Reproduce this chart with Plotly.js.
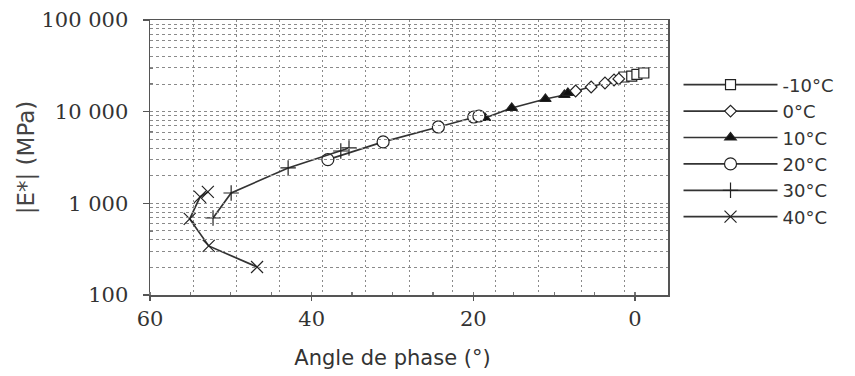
<!DOCTYPE html>
<html>
<head>
<meta charset="utf-8">
<script src="https://cdn.plot.ly/plotly-3.0.1.min.js"></script>
<style>html,body{margin:0;padding:0;background:#fff;}#chart{width:855px;height:376px;}</style>
</head>
<body>
<div id="chart"></div>
<script>
// Series (phase angle in degrees, |E*| in MPa)
const temps = ['-10°C', '0°C', '10°C', '20°C', '30°C', '40°C'];
const phase_m10 = [5.1, 4.2, 3.6, 2.8];
const modulus_m10 = [23880, 24480, 25470, 26420];
const phase_0 = [10.7, 8.9, 7.3, 6.25, 5.7];
const modulus_0 = [16820, 18570, 20570, 22180, 22760];
const phase_10 = [21.2, 18.1, 14.2, 12.0, 11.6];
const modulus_10 = [8530, 10970, 13740, 15200, 16000];
const phase_20 = [39.4, 33.0, 26.6, 22.5, 21.9];
const modulus_20 = [3000, 4680, 6810, 8750, 8970];
const phase_30 = [52.7, 50.6, 44.0, 37.9, 36.95];
const modulus_30 = [693, 1297, 2432, 3724, 4018];
const phase_40 = [47.6, 53.2, 55.4, 54.2, 53.3];
const modulus_40 = [202, 343, 676, 1175, 1331];

// Axis ticks
const xTickVals = [60, 40, 20, 0];
const xTickText = ['60', '40', '20', '0'];
const yTickVals = [100, 1000, 10000, 100000];
const yTickText = ['100', '1 000', '10 000', '100 000'];
const yMinorVals = [200, 300, 400, 500, 600, 700, 800, 900,
                    2000, 3000, 4000, 5000, 6000, 7000, 8000, 9000,
                    20000, 30000, 40000, 50000, 60000, 70000, 80000, 90000];

const lineStyle = {color: '#333', width: 1.7};
const mk = (symbol, size, fill) => ({symbol: symbol, size: size, color: fill, line: {color: '#222', width: 1.2}});

const traces = [
  {x: phase_m10, y: modulus_m10, name: temps[0], marker: mk('square', 10, '#fff')},
  {x: phase_0, y: modulus_0, name: temps[1], marker: mk('diamond', 9, '#fff')},
  {x: phase_10, y: modulus_10, name: temps[2], marker: mk('triangle-up', 10, '#111')},
  {x: phase_20, y: modulus_20, name: temps[3], marker: mk('circle', 12, '#fff')},
  {x: phase_30, y: modulus_30, name: temps[4], marker: mk('cross-thin-open', 11, '#222')},
  {x: phase_40, y: modulus_40, name: temps[5], marker: mk('x-thin-open', 12, '#222')}
].map(t => Object.assign({type: 'scatter', mode: 'lines+markers', line: lineStyle, xaxis: 'x', yaxis: 'y'}, t));

// empty trace so the labelled angle axis (x2) is created
traces.push({type: 'scatter', x: [], y: [], xaxis: 'x2', yaxis: 'y', showlegend: false, hoverinfo: 'skip'});

const gridColor = '#8a8a8a';
const layout = {
  width: 855, height: 376,
  margin: {l: 150, r: 187, t: 20, b: 81},
  paper_bgcolor: '#fff', plot_bgcolor: 'rgba(0,0,0,0)',
  showlegend: true,
  xaxis: {
    domain: [0, 1], range: [60, 0], showticklabels: false, ticks: '',
    showgrid: true, dtick: 5, tick0: 0, gridcolor: gridColor, griddash: '2px,3px', gridwidth: 1,
    showline: true, mirror: true, linecolor: '#555', linewidth: 1.5, zeroline: false
  },
  xaxis2: {
    domain: [0, 485 / 518], anchor: 'y', range: [60, 0],
    tickmode: 'array', tickvals: xTickVals, ticktext: xTickText,
    ticks: 'outside', ticklen: 5, tickcolor: '#555', tickwidth: 1.2,
    minor: {dtick: 5, tick0: 0, ticks: 'inside', ticklen: 3, tickcolor: '#777', showgrid: false},
    showgrid: false, zeroline: false, showline: false,
    tickfont: {family: 'DejaVu Serif', size: 21, color: '#333'},
    title: {text: 'Angle de phase (°)', font: {family: 'DejaVu Sans', size: 21, color: '#333'}, standoff: 20}
  },
  yaxis: {
    type: 'log', range: [2, 5], tickmode: 'array', tickvals: yTickVals, ticktext: yTickText,
    ticks: 'outside', ticklen: 6, tickcolor: '#555', tickwidth: 1.2,
    showgrid: true, gridcolor: gridColor, griddash: '3px,3px', gridwidth: 1,
    minor: {tickmode: 'array', tickvals: yMinorVals, ticks: 'inside', ticklen: 3, tickcolor: '#777',
            showgrid: true, gridcolor: gridColor, griddash: '3px,3px', gridwidth: 1},
    showline: true, mirror: true, linecolor: '#555', linewidth: 1.5, zeroline: false,
    tickfont: {family: 'DejaVu Serif', size: 21, color: '#333'}, ticklabelstandoff: 10,
    title: {text: '|E*| (MPa)\u2003\u2003', font: {family: 'DejaVu Sans', size: 23, color: '#444'}, standoff: 0}
  },
  legend: {
    x: 1.0203, xanchor: 'left', y: 0.831, yanchor: 'top', itemwidth: 94,
    font: {family: 'DejaVu Sans', size: 18, color: '#333'},
    bgcolor: 'rgba(0,0,0,0)', borderwidth: 0, tracegroupgap: 0
  }
};

Plotly.newPlot('chart', traces, layout, {displayModeBar: false, staticPlot: true});
</script>
</body>
</html>
